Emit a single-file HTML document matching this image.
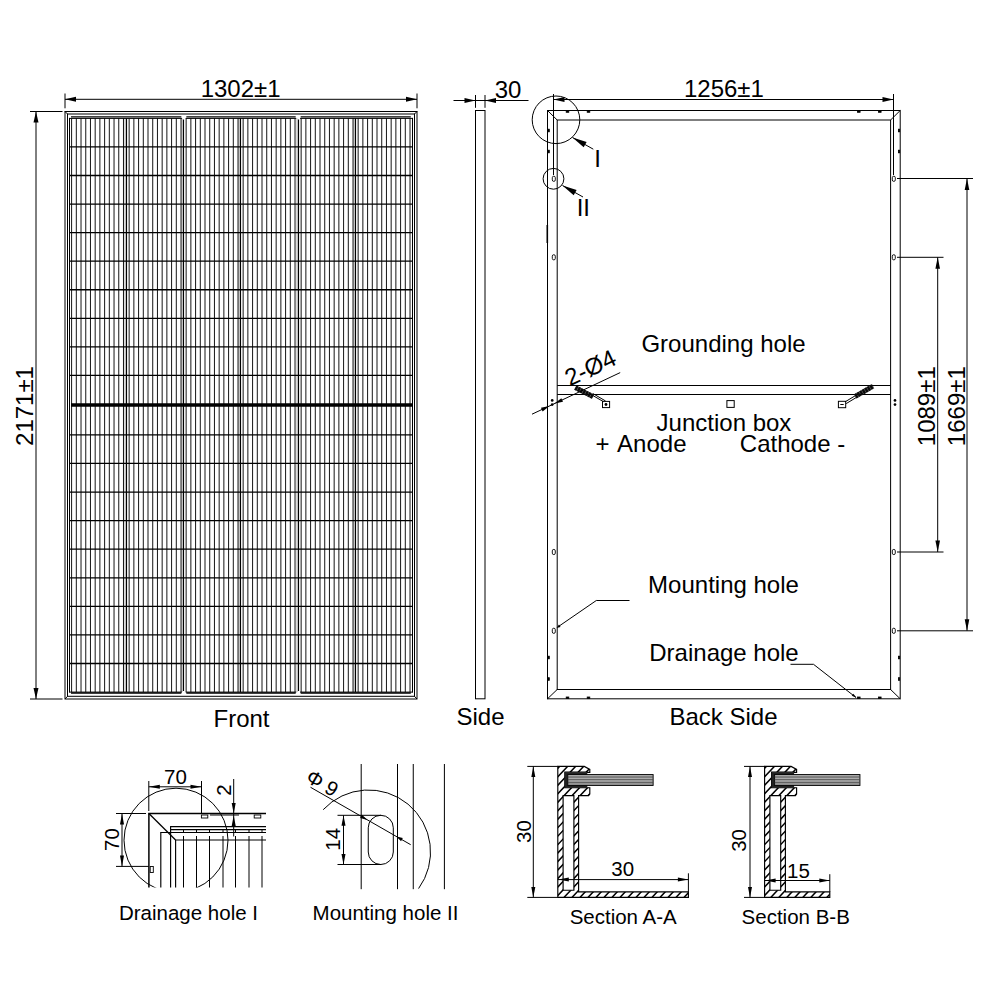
<!DOCTYPE html>
<html lang="en">
<head>
<meta charset="utf-8">
<title>Module dimensions</title>
<style>
html,body{margin:0;padding:0;background:#fff;}
body{width:1000px;height:1000px;overflow:hidden;}
svg{display:block;}
text{font-family:"Liberation Sans",sans-serif;fill:#000;}
</style>
</head>
<body>
<svg width="1000" height="1000" viewBox="0 0 1000 1000">
<rect x="0" y="0" width="1000" height="1000" fill="#fff"/>
<line x1="65.00" y1="93.50" x2="65.00" y2="108.30" stroke="#000" stroke-width="1" />
<line x1="417.00" y1="93.50" x2="417.00" y2="108.30" stroke="#000" stroke-width="1" />
<line x1="65.00" y1="99.30" x2="417.00" y2="99.30" stroke="#000" stroke-width="1" />
<polygon points="65.00,99.30 76.00,96.80 76.00,101.80" fill="#000"/>
<polygon points="417.00,99.30 406.00,101.80 406.00,96.80" fill="#000"/>
<line x1="30.00" y1="111.50" x2="62.50" y2="111.50" stroke="#000" stroke-width="1" />
<line x1="30.00" y1="699.00" x2="62.50" y2="699.00" stroke="#000" stroke-width="1" />
<line x1="36.00" y1="111.50" x2="36.00" y2="699.00" stroke="#000" stroke-width="1" />
<polygon points="36.00,111.50 38.50,122.50 33.50,122.50" fill="#000"/>
<polygon points="36.00,699.00 33.50,688.00 38.50,688.00" fill="#000"/>
<rect x="65.00" y="111.50" width="352.00" height="587.50" stroke="#000" stroke-width="1" fill="none"/>
<rect x="67.50" y="114.00" width="347.00" height="582.30" stroke="#000" stroke-width="1" fill="none"/>
<line x1="65.00" y1="111.50" x2="67.50" y2="114.00" stroke="#000" stroke-width="1" />
<line x1="417.00" y1="111.50" x2="414.50" y2="114.00" stroke="#000" stroke-width="1" />
<line x1="65.00" y1="699.00" x2="67.50" y2="696.30" stroke="#000" stroke-width="1" />
<line x1="417.00" y1="699.00" x2="414.50" y2="696.30" stroke="#000" stroke-width="1" />
<line x1="69.50" y1="117.90" x2="69.50" y2="692.60" stroke="#000" stroke-width="1" />
<line x1="412.50" y1="117.90" x2="412.50" y2="692.60" stroke="#000" stroke-width="1" />
<line x1="71.00" y1="116.90" x2="181.33" y2="116.90" stroke="#000" stroke-width="1.3" />
<line x1="71.00" y1="693.00" x2="181.33" y2="693.00" stroke="#000" stroke-width="1.3" />
<line x1="69.50" y1="118.40" x2="181.93" y2="118.40" stroke="#000" stroke-width="1" />
<line x1="69.50" y1="692.10" x2="181.93" y2="692.10" stroke="#000" stroke-width="1" />
<line x1="186.33" y1="116.90" x2="295.67" y2="116.90" stroke="#000" stroke-width="1.3" />
<line x1="186.33" y1="693.00" x2="295.67" y2="693.00" stroke="#000" stroke-width="1.3" />
<line x1="185.73" y1="118.40" x2="296.27" y2="118.40" stroke="#000" stroke-width="1" />
<line x1="185.73" y1="692.10" x2="296.27" y2="692.10" stroke="#000" stroke-width="1" />
<line x1="300.67" y1="116.90" x2="410.80" y2="116.90" stroke="#000" stroke-width="1.3" />
<line x1="300.67" y1="693.00" x2="410.80" y2="693.00" stroke="#000" stroke-width="1.3" />
<line x1="300.07" y1="118.40" x2="412.50" y2="118.40" stroke="#000" stroke-width="1" />
<line x1="300.07" y1="692.10" x2="412.50" y2="692.10" stroke="#000" stroke-width="1" />
<line x1="69.50" y1="146.96" x2="412.50" y2="146.96" stroke="#000" stroke-width="1.3" />
<line x1="69.50" y1="175.52" x2="412.50" y2="175.52" stroke="#000" stroke-width="1.3" />
<line x1="69.50" y1="204.08" x2="412.50" y2="204.08" stroke="#000" stroke-width="1.3" />
<line x1="69.50" y1="232.64" x2="412.50" y2="232.64" stroke="#000" stroke-width="1.3" />
<line x1="69.50" y1="261.20" x2="412.50" y2="261.20" stroke="#000" stroke-width="1.3" />
<line x1="69.50" y1="289.76" x2="412.50" y2="289.76" stroke="#000" stroke-width="1.3" />
<line x1="69.50" y1="318.32" x2="412.50" y2="318.32" stroke="#000" stroke-width="1.3" />
<line x1="69.50" y1="346.88" x2="412.50" y2="346.88" stroke="#000" stroke-width="1.3" />
<line x1="69.50" y1="375.44" x2="412.50" y2="375.44" stroke="#000" stroke-width="1.3" />
<line x1="69.50" y1="434.88" x2="412.50" y2="434.88" stroke="#000" stroke-width="1.3" />
<line x1="69.50" y1="463.46" x2="412.50" y2="463.46" stroke="#000" stroke-width="1.3" />
<line x1="69.50" y1="492.04" x2="412.50" y2="492.04" stroke="#000" stroke-width="1.3" />
<line x1="69.50" y1="520.62" x2="412.50" y2="520.62" stroke="#000" stroke-width="1.3" />
<line x1="69.50" y1="549.20" x2="412.50" y2="549.20" stroke="#000" stroke-width="1.3" />
<line x1="69.50" y1="577.78" x2="412.50" y2="577.78" stroke="#000" stroke-width="1.3" />
<line x1="69.50" y1="606.36" x2="412.50" y2="606.36" stroke="#000" stroke-width="1.3" />
<line x1="69.50" y1="634.94" x2="412.50" y2="634.94" stroke="#000" stroke-width="1.3" />
<line x1="69.50" y1="663.52" x2="412.50" y2="663.52" stroke="#000" stroke-width="1.3" />
<line x1="71.00" y1="405.00" x2="412.50" y2="405.00" stroke="#000" stroke-width="3.5" />
<path d="M71.60 118.4V692.1M76.32 118.4V692.1M81.03 118.4V692.1M85.75 118.4V692.1M90.46 118.4V692.1M95.18 118.4V692.1M99.89 118.4V692.1M104.61 118.4V692.1M109.32 118.4V692.1M114.04 118.4V692.1M118.75 118.4V692.1M123.47 118.4V692.1M129.15 118.4V692.1M133.87 118.4V692.1M138.58 118.4V692.1M143.30 118.4V692.1M148.01 118.4V692.1M152.73 118.4V692.1M157.44 118.4V692.1M162.16 118.4V692.1M166.87 118.4V692.1M171.59 118.4V692.1M176.30 118.4V692.1M181.02 118.4V692.1M186.15 118.4V692.1M190.87 118.4V692.1M195.58 118.4V692.1M200.30 118.4V692.1M205.01 118.4V692.1M209.73 118.4V692.1M214.44 118.4V692.1M219.16 118.4V692.1M223.87 118.4V692.1M228.59 118.4V692.1M233.30 118.4V692.1M238.02 118.4V692.1M243.15 118.4V692.1M247.87 118.4V692.1M252.58 118.4V692.1M257.30 118.4V692.1M262.01 118.4V692.1M266.73 118.4V692.1M271.44 118.4V692.1M276.16 118.4V692.1M280.87 118.4V692.1M285.59 118.4V692.1M290.30 118.4V692.1M295.02 118.4V692.1M301.15 118.4V692.1M305.87 118.4V692.1M310.58 118.4V692.1M315.30 118.4V692.1M320.01 118.4V692.1M324.73 118.4V692.1M329.44 118.4V692.1M334.16 118.4V692.1M338.87 118.4V692.1M343.59 118.4V692.1M348.30 118.4V692.1M353.02 118.4V692.1M358.15 118.4V692.1M362.87 118.4V692.1M367.58 118.4V692.1M372.30 118.4V692.1M377.01 118.4V692.1M381.73 118.4V692.1M386.44 118.4V692.1M391.16 118.4V692.1M395.87 118.4V692.1M400.59 118.4V692.1M405.30 118.4V692.1M410.02 118.4V692.1" stroke="#000" stroke-width="0.92" fill="none" />
<path d="M126.50 118.4V692.1M183.50 119.60000000000001V690.9M240.50 118.4V692.1M298.50 119.60000000000001V690.9M355.50 118.4V692.1" stroke="#000" stroke-width="1.15" fill="none" />
<path d="M125.10 118.4V692.1M182.10 118.4V692.1M239.10 118.4V692.1M297.10 118.4V692.1M354.10 118.4V692.1" stroke="#000" stroke-width="1.4" fill="none" stroke-opacity="0.22"/>
<text x="240.60" y="97.00" font-size="24" text-anchor="middle" >1302±1</text>
<text x="32.60" y="406.00" font-size="24" text-anchor="middle" transform="rotate(-90 32.60 406.00)" >2171±1</text>
<text x="241.50" y="727.00" font-size="24" text-anchor="middle" >Front</text>
<rect x="475.50" y="110.50" width="9.50" height="588.30" stroke="#000" stroke-width="1" fill="none"/>
<line x1="475.50" y1="95.00" x2="475.50" y2="107.80" stroke="#000" stroke-width="1" />
<line x1="485.00" y1="95.00" x2="485.00" y2="107.80" stroke="#000" stroke-width="1" />
<line x1="453.50" y1="100.50" x2="528.50" y2="100.50" stroke="#000" stroke-width="1" />
<polygon points="475.50,100.50 464.50,103.00 464.50,98.00" fill="#000"/>
<polygon points="485.00,100.50 496.00,98.00 496.00,103.00" fill="#000"/>
<text x="508.00" y="98.00" font-size="24" text-anchor="middle" >30</text>
<text x="480.50" y="724.60" font-size="24" text-anchor="middle" >Side</text>
<rect x="547.50" y="110.50" width="352.70" height="588.30" stroke="#000" stroke-width="1" fill="none"/>
<rect x="557.20" y="120.00" width="333.40" height="569.50" stroke="#000" stroke-width="1" fill="none"/>
<line x1="547.50" y1="110.50" x2="557.20" y2="120.00" stroke="#000" stroke-width="1" />
<line x1="900.20" y1="110.50" x2="890.60" y2="120.00" stroke="#000" stroke-width="1" />
<line x1="547.50" y1="698.80" x2="557.20" y2="689.50" stroke="#000" stroke-width="1" />
<line x1="900.20" y1="698.80" x2="890.60" y2="689.50" stroke="#000" stroke-width="1" />
<line x1="547.30" y1="225.00" x2="547.30" y2="243.00" stroke="#000" stroke-width="1.6" />
<line x1="557.20" y1="385.50" x2="890.60" y2="385.50" stroke="#000" stroke-width="1" />
<line x1="557.20" y1="394.50" x2="890.60" y2="394.50" stroke="#000" stroke-width="1" />
<line x1="553.50" y1="94.00" x2="553.50" y2="175.00" stroke="#000" stroke-width="1" />
<line x1="893.50" y1="94.00" x2="893.50" y2="175.00" stroke="#000" stroke-width="1" />
<line x1="553.50" y1="99.50" x2="893.50" y2="99.50" stroke="#000" stroke-width="1" />
<polygon points="553.50,99.50 564.50,97.00 564.50,102.00" fill="#000"/>
<polygon points="893.50,99.50 882.50,102.00 882.50,97.00" fill="#000"/>
<text x="723.90" y="97.00" font-size="24" text-anchor="middle" >1256±1</text>
<rect x="566.20" y="110.90" width="2.60" height="1.40" stroke="#000" stroke-width="0.8" fill="#000"/>
<rect x="566.20" y="697.00" width="2.60" height="1.40" stroke="#000" stroke-width="0.8" fill="#000"/>
<rect x="587.20" y="110.90" width="2.60" height="1.40" stroke="#000" stroke-width="0.8" fill="#000"/>
<rect x="587.20" y="697.00" width="2.60" height="1.40" stroke="#000" stroke-width="0.8" fill="#000"/>
<rect x="878.50" y="110.90" width="2.60" height="1.40" stroke="#000" stroke-width="0.8" fill="#000"/>
<rect x="878.50" y="697.00" width="2.60" height="1.40" stroke="#000" stroke-width="0.8" fill="#000"/>
<rect x="857.50" y="110.90" width="2.60" height="1.40" stroke="#000" stroke-width="0.8" fill="#000"/>
<rect x="857.50" y="697.00" width="2.60" height="1.40" stroke="#000" stroke-width="0.8" fill="#000"/>
<rect x="548.00" y="129.20" width="1.30" height="2.60" stroke="#000" stroke-width="0.8" fill="#000"/>
<rect x="898.40" y="129.20" width="1.30" height="2.60" stroke="#000" stroke-width="0.8" fill="#000"/>
<rect x="548.00" y="150.20" width="1.30" height="2.60" stroke="#000" stroke-width="0.8" fill="#000"/>
<rect x="898.40" y="150.20" width="1.30" height="2.60" stroke="#000" stroke-width="0.8" fill="#000"/>
<rect x="548.00" y="656.20" width="1.30" height="2.60" stroke="#000" stroke-width="0.8" fill="#000"/>
<rect x="898.40" y="656.20" width="1.30" height="2.60" stroke="#000" stroke-width="0.8" fill="#000"/>
<rect x="548.00" y="677.70" width="1.30" height="2.60" stroke="#000" stroke-width="0.8" fill="#000"/>
<rect x="898.40" y="677.70" width="1.30" height="2.60" stroke="#000" stroke-width="0.8" fill="#000"/>
<rect x="552.30" y="176.20" width="3" height="5.2" rx="1.5" fill="none" stroke="#000" stroke-width="0.9"/>
<rect x="892.30" y="176.20" width="3" height="5.2" rx="1.5" fill="none" stroke="#000" stroke-width="0.9"/>
<rect x="552.30" y="254.70" width="3" height="5.2" rx="1.5" fill="none" stroke="#000" stroke-width="0.9"/>
<rect x="892.30" y="254.70" width="3" height="5.2" rx="1.5" fill="none" stroke="#000" stroke-width="0.9"/>
<rect x="552.30" y="549.40" width="3" height="5.2" rx="1.5" fill="none" stroke="#000" stroke-width="0.9"/>
<rect x="892.30" y="549.40" width="3" height="5.2" rx="1.5" fill="none" stroke="#000" stroke-width="0.9"/>
<rect x="552.30" y="628.20" width="3" height="5.2" rx="1.5" fill="none" stroke="#000" stroke-width="0.9"/>
<rect x="892.30" y="628.20" width="3" height="5.2" rx="1.5" fill="none" stroke="#000" stroke-width="0.9"/>
<circle cx="556" cy="119.8" r="23.8" fill="none" stroke="#000" stroke-width="1"/>
<circle cx="553.5" cy="178.8" r="10.4" fill="none" stroke="#000" stroke-width="1"/>
<line x1="572.50" y1="137.50" x2="593.30" y2="149.20" stroke="#000" stroke-width="1" />
<polygon points="572.50,137.50 586.61,141.98 583.68,147.21" fill="#000"/>
<line x1="562.50" y1="185.50" x2="583.00" y2="197.00" stroke="#000" stroke-width="1" />
<polygon points="562.50,185.50 576.61,189.98 573.68,195.21" fill="#000"/>
<text x="597.70" y="166.70" font-size="24" text-anchor="middle" >I</text>
<text x="583.30" y="215.70" font-size="24" text-anchor="middle" >II</text>
<line x1="897.00" y1="178.50" x2="973.00" y2="178.50" stroke="#000" stroke-width="1" />
<line x1="897.00" y1="630.80" x2="973.00" y2="630.80" stroke="#000" stroke-width="1" />
<line x1="967.00" y1="178.50" x2="967.00" y2="630.80" stroke="#000" stroke-width="1" />
<polygon points="967.00,178.50 969.30,190.00 964.70,190.00" fill="#000"/>
<polygon points="967.00,630.80 964.70,619.30 969.30,619.30" fill="#000"/>
<line x1="897.00" y1="257.30" x2="943.50" y2="257.30" stroke="#000" stroke-width="1" />
<line x1="897.00" y1="552.00" x2="943.50" y2="552.00" stroke="#000" stroke-width="1" />
<line x1="937.70" y1="257.30" x2="937.70" y2="552.00" stroke="#000" stroke-width="1" />
<polygon points="937.70,257.30 940.00,268.80 935.40,268.80" fill="#000"/>
<polygon points="937.70,552.00 935.40,540.50 940.00,540.50" fill="#000"/>
<text x="935.30" y="406.20" font-size="24" text-anchor="middle" transform="rotate(-90 935.30 406.20)" >1089±1</text>
<text x="965.20" y="406.20" font-size="24" text-anchor="middle" transform="rotate(-90 965.20 406.20)" >1669±1</text>
<text x="723.50" y="351.70" font-size="24" text-anchor="middle" >Grounding hole</text>
<text x="724.00" y="430.70" font-size="24" text-anchor="middle" >Junction box</text>
<text x="641.00" y="451.80" font-size="24" text-anchor="middle" word-spacing="2.2">+ Anode</text>
<text x="792.50" y="451.80" font-size="24" text-anchor="middle" >Cathode -</text>
<text x="723.50" y="593.00" font-size="24" text-anchor="middle" >Mounting hole</text>
<text x="724.00" y="661.00" font-size="24" text-anchor="middle" >Drainage hole</text>
<text x="723.50" y="725.00" font-size="24" text-anchor="middle" >Back Side</text>
<path d="M558.5 626.5L596.3 600.5H629.5" stroke="#000" stroke-width="1" fill="none" />
<polygon points="556.50,628.00 559.00,624.58 560.59,626.89" fill="#000"/>
<path d="M790.5 664.3H813.5L856 697.5" stroke="#000" stroke-width="1" fill="none" />
<polygon points="856.50,697.80 851.76,695.75 853.36,693.70" fill="#000"/>
<rect x="602.50" y="401.40" width="7.10" height="6.20" stroke="#000" stroke-width="1" fill="none"/>
<circle cx="606" cy="404.5" r="1.4" fill="#000"/>
<rect x="726.90" y="400.60" width="7.30" height="6.80" stroke="#000" stroke-width="1" fill="none"/>
<rect x="838.40" y="401.30" width="7.30" height="6.40" stroke="#000" stroke-width="1" fill="none"/>
<line x1="840.30" y1="404.50" x2="843.70" y2="404.50" stroke="#000" stroke-width="1.0" />
<path d="M603.3 401.6L592.0 395.0M605.6 401.0L593.0 393.6" stroke="#000" stroke-width="1.0" fill="none" />
<line x1="575.30" y1="387.60" x2="593.00" y2="396.60" stroke="#1a1a1a" stroke-width="4.8" stroke-dasharray="2.4 0.5"/>
<line x1="575.30" y1="387.60" x2="593.00" y2="396.60" stroke="#000" stroke-width="4.8" stroke-opacity="0.55"/>
<path d="M845.2 401.8L855.6 395.5M846.2 403.6L856.6 397.3" stroke="#000" stroke-width="1.0" fill="none" />
<line x1="855.30" y1="396.40" x2="873.00" y2="386.20" stroke="#1a1a1a" stroke-width="4.8" stroke-dasharray="2.4 0.5"/>
<line x1="855.30" y1="396.40" x2="873.00" y2="386.20" stroke="#000" stroke-width="4.8" stroke-opacity="0.55"/>
<circle cx="552.2" cy="400.4" r="1.35" fill="#000"/>
<circle cx="552.2" cy="404.6" r="1.35" fill="#000"/>
<circle cx="895" cy="400.4" r="1.35" fill="#000"/>
<circle cx="895" cy="404.6" r="1.35" fill="#000"/>
<line x1="532.00" y1="414.20" x2="620.20" y2="372.60" stroke="#000" stroke-width="1" />
<polygon points="549.46,405.96 542.63,411.40 540.92,407.78" fill="#000"/>
<polygon points="554.49,403.59 561.33,398.16 563.03,401.77" fill="#000"/>
<text x="569.80" y="386.60" font-size="24" text-anchor="start" transform="rotate(-25.25 569.80 386.60)" >2-Ø4</text>
<clipPath id="c1"><rect x="100" y="760" width="170" height="127.6"/></clipPath>
<g clip-path="url(#c1)">
<circle cx="176" cy="840.2" r="52" fill="none" stroke="#000" stroke-width="1"/>
<line x1="148.90" y1="813.50" x2="148.90" y2="890.00" stroke="#000" stroke-width="1.5" />
<line x1="160.80" y1="832.50" x2="160.80" y2="890.00" stroke="#000" stroke-width="1.15" />
<line x1="170.60" y1="826.50" x2="170.60" y2="890.00" stroke="#000" stroke-width="1.15" />
<line x1="175.60" y1="840.00" x2="175.60" y2="890.00" stroke="#000" stroke-width="1.15" />
<line x1="183.50" y1="836.00" x2="183.50" y2="890.00" stroke="#000" stroke-width="1" />
<line x1="196.50" y1="836.00" x2="196.50" y2="890.00" stroke="#000" stroke-width="1" />
<line x1="209.50" y1="836.00" x2="209.50" y2="890.00" stroke="#000" stroke-width="1" />
<line x1="223.00" y1="836.00" x2="223.00" y2="890.00" stroke="#000" stroke-width="1" />
<line x1="235.50" y1="836.00" x2="235.50" y2="890.00" stroke="#000" stroke-width="1" />
<line x1="249.00" y1="836.00" x2="249.00" y2="890.00" stroke="#000" stroke-width="1" />
<line x1="262.00" y1="836.00" x2="262.00" y2="890.00" stroke="#000" stroke-width="1" />
</g>
<line x1="148.20" y1="813.50" x2="266.00" y2="813.50" stroke="#000" stroke-width="1.4" />
<line x1="148.90" y1="813.50" x2="175.60" y2="840.00" stroke="#000" stroke-width="1.3" />
<line x1="170.10" y1="826.60" x2="266.00" y2="826.60" stroke="#000" stroke-width="1.2" />
<line x1="170.60" y1="829.60" x2="266.00" y2="829.60" stroke="#000" stroke-width="1.2" />
<line x1="160.30" y1="832.50" x2="266.00" y2="832.50" stroke="#000" stroke-width="1.2" />
<line x1="183.50" y1="829.50" x2="183.50" y2="832.50" stroke="#000" stroke-width="1" />
<line x1="196.50" y1="829.50" x2="196.50" y2="832.50" stroke="#000" stroke-width="1" />
<line x1="209.50" y1="829.50" x2="209.50" y2="832.50" stroke="#000" stroke-width="1" />
<line x1="223.00" y1="829.50" x2="223.00" y2="832.50" stroke="#000" stroke-width="1" />
<line x1="235.50" y1="829.50" x2="235.50" y2="832.50" stroke="#000" stroke-width="1" />
<line x1="249.00" y1="829.50" x2="249.00" y2="832.50" stroke="#000" stroke-width="1" />
<line x1="262.00" y1="829.50" x2="262.00" y2="832.50" stroke="#000" stroke-width="1" />
<line x1="175.60" y1="840.00" x2="266.00" y2="840.00" stroke="#000" stroke-width="1.15" />
<rect x="201.40" y="815.00" width="6.40" height="3.00" stroke="#000" stroke-width="0.9" fill="none"/>
<rect x="254.20" y="815.00" width="6.60" height="3.00" stroke="#000" stroke-width="0.9" fill="none"/>
<rect x="150.20" y="866.50" width="3.10" height="6.00" stroke="#000" stroke-width="0.9" fill="none"/>
<line x1="148.80" y1="781.00" x2="148.80" y2="811.00" stroke="#000" stroke-width="1" />
<line x1="201.50" y1="781.00" x2="201.50" y2="813.50" stroke="#000" stroke-width="1" />
<line x1="148.80" y1="786.80" x2="201.50" y2="786.80" stroke="#000" stroke-width="1" />
<polygon points="148.80,786.80 159.80,784.80 159.80,788.80" fill="#000"/>
<polygon points="201.50,786.80 190.50,788.80 190.50,784.80" fill="#000"/>
<text x="175.50" y="784.00" font-size="20.5" text-anchor="middle" >70</text>
<line x1="116.00" y1="813.50" x2="146.00" y2="813.50" stroke="#000" stroke-width="1" />
<line x1="116.00" y1="866.40" x2="148.80" y2="866.40" stroke="#000" stroke-width="1" />
<line x1="122.00" y1="813.50" x2="122.00" y2="866.40" stroke="#000" stroke-width="1" />
<polygon points="122.00,813.50 124.00,824.50 120.00,824.50" fill="#000"/>
<polygon points="122.00,866.40 120.00,855.40 124.00,855.40" fill="#000"/>
<text x="119.00" y="839.50" font-size="20.5" text-anchor="middle" transform="rotate(-90 119.00 839.50)" >70</text>
<line x1="233.70" y1="779.00" x2="233.70" y2="836.50" stroke="#000" stroke-width="1" />
<line x1="210.00" y1="815.00" x2="239.00" y2="815.00" stroke="#000" stroke-width="1" />
<polygon points="233.70,813.50 231.70,803.00 235.70,803.00" fill="#000"/>
<polygon points="233.70,815.50 235.70,826.00 231.70,826.00" fill="#000"/>
<text x="231.00" y="790.00" font-size="20.5" text-anchor="middle" transform="rotate(-90 231.00 790.00)" >2</text>
<text x="188.50" y="919.70" font-size="20.5" text-anchor="middle" >Drainage hole I</text>
<line x1="361.20" y1="764.00" x2="361.20" y2="889.20" stroke="#000" stroke-width="1" />
<line x1="397.50" y1="764.00" x2="397.50" y2="889.20" stroke="#000" stroke-width="1" />
<line x1="413.25" y1="764.00" x2="413.25" y2="889.20" stroke="#000" stroke-width="1" />
<line x1="444.40" y1="764.00" x2="444.40" y2="889.20" stroke="#000" stroke-width="1" />
<rect x="368.25" y="815.3" width="25.05" height="49.2" rx="12.5" fill="none" stroke="#000" stroke-width="1"/>
<line x1="337.50" y1="815.30" x2="381.00" y2="815.30" stroke="#000" stroke-width="1" />
<line x1="337.50" y1="864.50" x2="381.00" y2="864.50" stroke="#000" stroke-width="1" />
<line x1="343.50" y1="815.30" x2="343.50" y2="864.50" stroke="#000" stroke-width="1" />
<polygon points="343.50,815.30 345.50,825.80 341.50,825.80" fill="#000"/>
<polygon points="343.50,864.50 341.50,854.00 345.50,854.00" fill="#000"/>
<text x="340.50" y="839.30" font-size="20.5" text-anchor="middle" transform="rotate(-90 340.50 839.30)" >14</text>
<path d="M323.18 809.69A62 62 0 0 1 418.58 888.56" stroke="#000" stroke-width="1" fill="none" />
<line x1="310.50" y1="787.25" x2="410.70" y2="844.70" stroke="#000" stroke-width="1" />
<polygon points="367.50,820.10 360.10,817.93 361.89,814.81" fill="#000"/>
<polygon points="396.30,836.40 402.83,838.07 401.04,841.19" fill="#000"/>
<text x="308.20" y="774.53" font-size="20.5" text-anchor="start" transform="rotate(29.83 308.20 774.53)" dominant-baseline="central" word-spacing="-0.33">Φ 9</text>
<text x="385.50" y="920.00" font-size="20.5" text-anchor="middle" >Mounting hole II</text>
<clipPath id="h557"><path d="M557.8 766.4H584.3L589.8 769.4V772.3H587.3V772.0999999999999H564.8V787.7H587.3H589.8V794.1L588.5999999999999 795.6H578.5999999999999V891.9H688.4V897.4H557.8ZM563.0999999999999 795.6H573.9V890.1999999999999H563.0999999999999Z" clip-rule="evenodd"/></clipPath>
<g clip-path="url(#h557)">
<path d="M359.30 902.40L509.30 743.40M367.30 902.40L517.30 743.40M375.30 902.40L525.30 743.40M383.30 902.40L533.30 743.40M391.30 902.40L541.30 743.40M399.30 902.40L549.30 743.40M407.30 902.40L557.30 743.40M415.30 902.40L565.30 743.40M423.30 902.40L573.30 743.40M431.30 902.40L581.30 743.40M439.30 902.40L589.30 743.40M447.30 902.40L597.30 743.40M455.30 902.40L605.30 743.40M463.30 902.40L613.30 743.40M471.30 902.40L621.30 743.40M479.30 902.40L629.30 743.40M487.30 902.40L637.30 743.40M495.30 902.40L645.30 743.40M503.30 902.40L653.30 743.40M511.30 902.40L661.30 743.40M519.30 902.40L669.30 743.40M527.30 902.40L677.30 743.40M535.30 902.40L685.30 743.40M543.30 902.40L693.30 743.40M551.30 902.40L701.30 743.40M559.30 902.40L709.30 743.40M567.30 902.40L717.30 743.40M575.30 902.40L725.30 743.40M583.30 902.40L733.30 743.40M591.30 902.40L741.30 743.40M599.30 902.40L749.30 743.40M607.30 902.40L757.30 743.40M615.30 902.40L765.30 743.40M623.30 902.40L773.30 743.40M631.30 902.40L781.30 743.40M639.30 902.40L789.30 743.40M647.30 902.40L797.30 743.40M655.30 902.40L805.30 743.40M663.30 902.40L813.30 743.40M671.30 902.40L821.30 743.40M679.30 902.40L829.30 743.40M687.30 902.40L837.30 743.40M695.30 902.40L845.30 743.40M703.30 902.40L853.30 743.40M711.30 902.40L861.30 743.40M719.30 902.40L869.30 743.40M727.30 902.40L877.30 743.40M735.30 902.40L885.30 743.40M743.30 902.40L893.30 743.40M751.30 902.40L901.30 743.40M759.30 902.40L909.30 743.40M767.30 902.40L917.30 743.40M775.30 902.40L925.30 743.40M783.30 902.40L933.30 743.40M791.30 902.40L941.30 743.40M799.30 902.40L949.30 743.40M807.30 902.40L957.30 743.40M815.30 902.40L965.30 743.40M823.30 902.40L973.30 743.40M831.30 902.40L981.30 743.40M839.30 902.40L989.30 743.40M847.30 902.40L997.30 743.40M855.30 902.40L1005.30 743.40M863.30 902.40L1013.30 743.40M871.30 902.40L1021.30 743.40M879.30 902.40L1029.30 743.40M887.30 902.40L1037.30 743.40M895.30 902.40L1045.30 743.40M903.30 902.40L1053.30 743.40M911.30 902.40L1061.30 743.40M919.30 902.40L1069.30 743.40M927.30 902.40L1077.30 743.40M935.30 902.40L1085.30 743.40M943.30 902.40L1093.30 743.40M951.30 902.40L1101.30 743.40" stroke="#000" stroke-width="1.5" fill="none" />
</g>
<path d="M557.8 766.4H584.3L589.8 769.4V772.3H587.3V772.0999999999999H564.8V787.7H587.3H589.8V794.1L588.5999999999999 795.6H578.5999999999999V891.9H688.4V897.4H557.8ZM563.0999999999999 795.6H573.9V890.1999999999999H563.0999999999999Z" stroke="#000" stroke-width="1.15" fill="none" fill-rule="evenodd"/>
<rect x="564.80" y="772.30" width="22.50" height="15.40" fill="#222"/>
<rect x="567.80" y="774.6" width="85.30" height="10.8" fill="#e4e4e4" stroke="#000" stroke-width="1"/>
<line x1="567.80" y1="776.20" x2="653.10" y2="776.20" stroke="#444" stroke-width="0.9" />
<line x1="567.80" y1="777.80" x2="653.10" y2="777.80" stroke="#444" stroke-width="0.9" />
<line x1="567.80" y1="779.40" x2="653.10" y2="779.40" stroke="#444" stroke-width="0.9" />
<line x1="567.80" y1="781.00" x2="653.10" y2="781.00" stroke="#444" stroke-width="0.9" />
<line x1="567.80" y1="782.60" x2="653.10" y2="782.60" stroke="#444" stroke-width="0.9" />
<line x1="567.80" y1="784.00" x2="653.10" y2="784.00" stroke="#444" stroke-width="0.9" />
<line x1="527.30" y1="766.40" x2="557.80" y2="766.40" stroke="#000" stroke-width="1" />
<line x1="527.30" y1="897.40" x2="557.80" y2="897.40" stroke="#000" stroke-width="1" />
<line x1="533.30" y1="766.40" x2="533.30" y2="897.40" stroke="#000" stroke-width="1" />
<polygon points="533.30,766.40 535.30,776.90 531.30,776.90" fill="#000"/>
<polygon points="533.30,897.40 531.30,886.90 535.30,886.90" fill="#000"/>
<text x="531.00" y="831.50" font-size="20.5" text-anchor="middle" transform="rotate(-90 531.00 831.50)" >30</text>
<line x1="688.40" y1="873.30" x2="688.40" y2="891.90" stroke="#000" stroke-width="1" />
<line x1="557.80" y1="879.60" x2="688.40" y2="879.60" stroke="#000" stroke-width="1" />
<polygon points="558.30,879.60 568.80,877.60 568.80,881.60" fill="#000"/>
<polygon points="688.40,879.60 677.90,881.60 677.90,877.60" fill="#000"/>
<text x="622.70" y="876.00" font-size="20.5" text-anchor="middle" >30</text>
<text x="623.20" y="923.70" font-size="20.5" text-anchor="middle" >Section A-A</text>
<clipPath id="h764"><path d="M764.6 766.4H791.1L796.6 769.4V772.3H794.1V772.0999999999999H771.6V787.7H794.1H796.6V794.1L795.4 795.6H785.4V891.9H829.8V897.4H764.6ZM769.9 795.6H780.7V890.1999999999999H769.9Z" clip-rule="evenodd"/></clipPath>
<g clip-path="url(#h764)">
<path d="M566.10 902.40L716.10 743.40M574.10 902.40L724.10 743.40M582.10 902.40L732.10 743.40M590.10 902.40L740.10 743.40M598.10 902.40L748.10 743.40M606.10 902.40L756.10 743.40M614.10 902.40L764.10 743.40M622.10 902.40L772.10 743.40M630.10 902.40L780.10 743.40M638.10 902.40L788.10 743.40M646.10 902.40L796.10 743.40M654.10 902.40L804.10 743.40M662.10 902.40L812.10 743.40M670.10 902.40L820.10 743.40M678.10 902.40L828.10 743.40M686.10 902.40L836.10 743.40M694.10 902.40L844.10 743.40M702.10 902.40L852.10 743.40M710.10 902.40L860.10 743.40M718.10 902.40L868.10 743.40M726.10 902.40L876.10 743.40M734.10 902.40L884.10 743.40M742.10 902.40L892.10 743.40M750.10 902.40L900.10 743.40M758.10 902.40L908.10 743.40M766.10 902.40L916.10 743.40M774.10 902.40L924.10 743.40M782.10 902.40L932.10 743.40M790.10 902.40L940.10 743.40M798.10 902.40L948.10 743.40M806.10 902.40L956.10 743.40M814.10 902.40L964.10 743.40M822.10 902.40L972.10 743.40M830.10 902.40L980.10 743.40M838.10 902.40L988.10 743.40M846.10 902.40L996.10 743.40M854.10 902.40L1004.10 743.40M862.10 902.40L1012.10 743.40M870.10 902.40L1020.10 743.40M878.10 902.40L1028.10 743.40M886.10 902.40L1036.10 743.40M894.10 902.40L1044.10 743.40M902.10 902.40L1052.10 743.40M910.10 902.40L1060.10 743.40M918.10 902.40L1068.10 743.40M926.10 902.40L1076.10 743.40M934.10 902.40L1084.10 743.40M942.10 902.40L1092.10 743.40M950.10 902.40L1100.10 743.40M958.10 902.40L1108.10 743.40M966.10 902.40L1116.10 743.40M974.10 902.40L1124.10 743.40M982.10 902.40L1132.10 743.40M990.10 902.40L1140.10 743.40M998.10 902.40L1148.10 743.40M1006.10 902.40L1156.10 743.40M1014.10 902.40L1164.10 743.40M1022.10 902.40L1172.10 743.40M1030.10 902.40L1180.10 743.40M1038.10 902.40L1188.10 743.40M1046.10 902.40L1196.10 743.40M1054.10 902.40L1204.10 743.40M1062.10 902.40L1212.10 743.40M1070.10 902.40L1220.10 743.40M1078.10 902.40L1228.10 743.40M1086.10 902.40L1236.10 743.40M1094.10 902.40L1244.10 743.40M1102.10 902.40L1252.10 743.40M1110.10 902.40L1260.10 743.40M1118.10 902.40L1268.10 743.40M1126.10 902.40L1276.10 743.40M1134.10 902.40L1284.10 743.40M1142.10 902.40L1292.10 743.40M1150.10 902.40L1300.10 743.40M1158.10 902.40L1308.10 743.40" stroke="#000" stroke-width="1.5" fill="none" />
</g>
<path d="M764.6 766.4H791.1L796.6 769.4V772.3H794.1V772.0999999999999H771.6V787.7H794.1H796.6V794.1L795.4 795.6H785.4V891.9H829.8V897.4H764.6ZM769.9 795.6H780.7V890.1999999999999H769.9Z" stroke="#000" stroke-width="1.15" fill="none" fill-rule="evenodd"/>
<rect x="771.60" y="772.30" width="22.50" height="15.40" fill="#222"/>
<rect x="774.60" y="774.6" width="85.30" height="10.8" fill="#e4e4e4" stroke="#000" stroke-width="1"/>
<line x1="774.60" y1="776.20" x2="859.90" y2="776.20" stroke="#444" stroke-width="0.9" />
<line x1="774.60" y1="777.80" x2="859.90" y2="777.80" stroke="#444" stroke-width="0.9" />
<line x1="774.60" y1="779.40" x2="859.90" y2="779.40" stroke="#444" stroke-width="0.9" />
<line x1="774.60" y1="781.00" x2="859.90" y2="781.00" stroke="#444" stroke-width="0.9" />
<line x1="774.60" y1="782.60" x2="859.90" y2="782.60" stroke="#444" stroke-width="0.9" />
<line x1="774.60" y1="784.00" x2="859.90" y2="784.00" stroke="#444" stroke-width="0.9" />
<line x1="744.00" y1="766.40" x2="764.60" y2="766.40" stroke="#000" stroke-width="1" />
<line x1="744.00" y1="897.40" x2="764.60" y2="897.40" stroke="#000" stroke-width="1" />
<line x1="750.00" y1="766.40" x2="750.00" y2="897.40" stroke="#000" stroke-width="1" />
<polygon points="750.00,766.40 752.00,776.90 748.00,776.90" fill="#000"/>
<polygon points="750.00,897.40 748.00,886.90 752.00,886.90" fill="#000"/>
<text x="746.50" y="840.40" font-size="20.5" text-anchor="middle" transform="rotate(-90 746.50 840.40)" >30</text>
<line x1="829.80" y1="874.20" x2="829.80" y2="891.90" stroke="#000" stroke-width="1" />
<line x1="764.60" y1="880.50" x2="829.80" y2="880.50" stroke="#000" stroke-width="1" />
<polygon points="765.10,880.50 775.60,878.50 775.60,882.50" fill="#000"/>
<polygon points="829.80,880.50 819.30,882.50 819.30,878.50" fill="#000"/>
<text x="798.50" y="877.50" font-size="20.5" text-anchor="middle" >15</text>
<text x="795.70" y="923.70" font-size="20.5" text-anchor="middle" >Section B-B</text>
</svg>
</body>
</html>
